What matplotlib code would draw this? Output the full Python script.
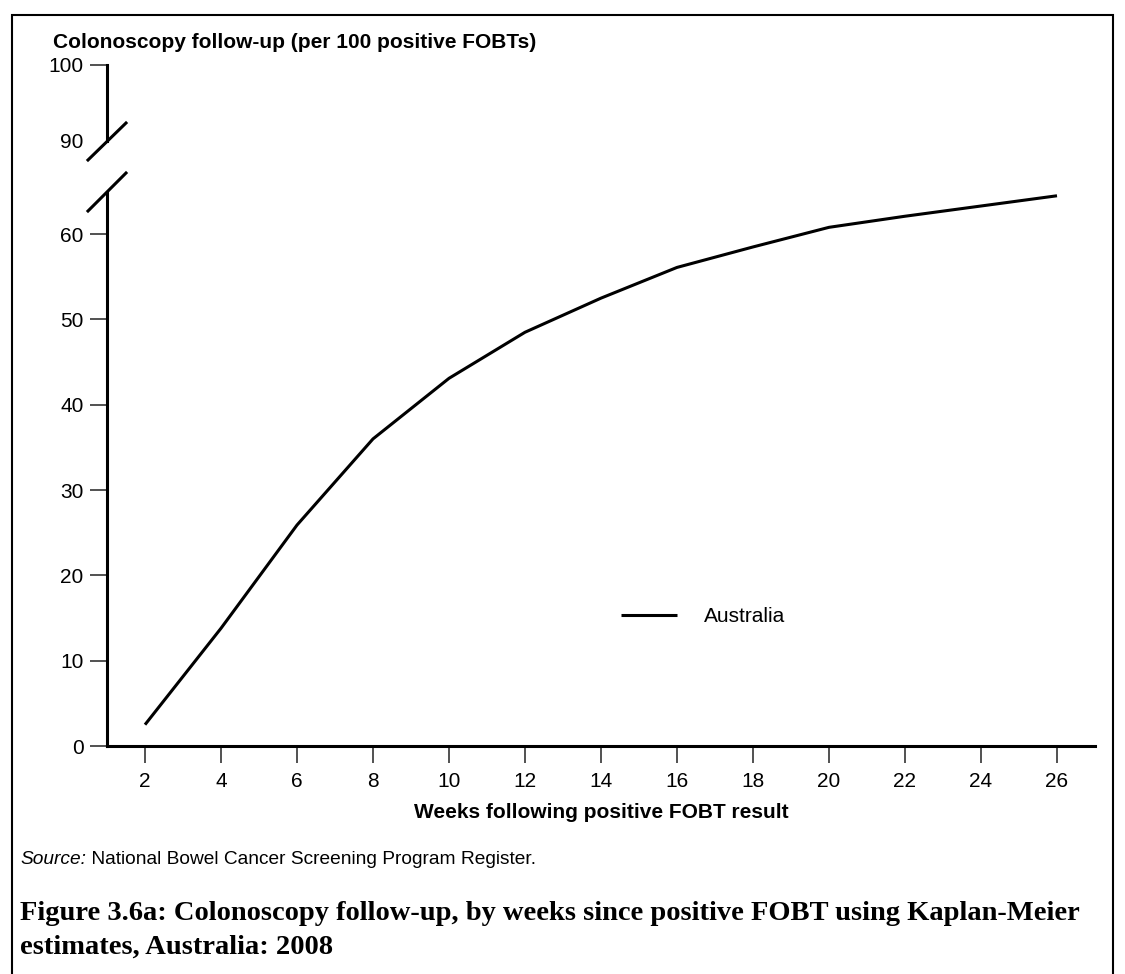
import matplotlib
matplotlib.use("Agg")
import matplotlib.pyplot as plt
from matplotlib.lines import Line2D
from matplotlib.patches import Rectangle

weeks = [2, 4, 6, 8, 10, 12, 14, 16, 18, 20, 22, 24, 26]
followup = [2.5, 13.8, 25.9, 36.0, 43.1, 48.5, 52.5, 56.1, 58.5, 60.8, 62.1, 63.3, 64.5]
series_name = "Australia"
x_ticks = [2, 4, 6, 8, 10, 12, 14, 16, 18, 20, 22, 24, 26]
y_ticks_low = [0, 10, 20, 30, 40, 50, 60]
y_ticks_high = [90, 100]

plt.rcParams['font.family'] = ['Liberation Sans', 'DejaVu Sans']

W, H = 1125, 974
fig = plt.figure(figsize=(W / 100, H / 100), dpi=100)

def fx(px):
    return px / W

def fy(py):
    return 1 - py / H

FS = 15

# lower axes
left, right = 107, 1095
bot, top = 746, 191.5
ax = fig.add_axes([fx(left), fy(bot), fx(right - left), (bot - top) / H])
ax.plot(weeks, followup, color='black', lw=2.2, solid_capstyle='butt', label=series_name)
ax.set_xlim(1, 27)
ax.set_ylim(0, 65)
ax.set_xticks(x_ticks)
ax.set_yticks(y_ticks_low)
for s in ['top', 'right']:
    ax.spines[s].set_visible(False)
ax.spines['left'].set_linewidth(2.2)
ax.spines['bottom'].set_linewidth(2.2)
ax.tick_params(axis='both', direction='out', length=12, width=1.2, color='#333333',
               labelsize=FS, labelcolor='black')
ax.tick_params(axis='y', pad=5)
ax.tick_params(axis='x', pad=7)
ax.set_xlabel("Weeks following positive FOBT result", fontsize=FS, fontweight='bold', labelpad=8)

leg = ax.legend(loc='center left', bbox_to_anchor=((621 - left) / (right - left), (bot - 617) / (bot - top)),
                frameon=False, fontsize=FS, handlelength=2.7, handletextpad=1.3,
                borderpad=0, borderaxespad=0)

# upper axes
ubot, utop = 141, 65
ax2 = fig.add_axes([fx(left), fy(ubot), fx(right - left), (ubot - utop) / H])
ax2.set_xlim(1, 27)
ax2.set_ylim(90, 100)
ax2.set_yticks(y_ticks_high)
ax2.set_xticks([])
for s in ['top', 'right', 'bottom']:
    ax2.spines[s].set_visible(False)
ax2.spines['left'].set_linewidth(2.2)
ax2.patch.set_alpha(0)
ax2.tick_params(axis='y', direction='out', length=12, width=1.2, color='#333333',
                labelsize=FS, pad=5)
ax2.yaxis.get_major_ticks()[0].tick1line.set_visible(False)

# break slashes
for (x0, y0, x1, y1) in [(88, 160, 126, 123), (88, 211, 126, 173)]:
    fig.add_artist(Line2D([fx(x0), fx(x1)], [fy(y0), fy(y1)], color='black', lw=2.2))

# y title
fig.text(fx(53), fy(42), "Colonoscopy follow-up (per 100 positive FOBTs)", fontsize=FS,
         fontweight='bold', ha='left', va='center')

# source
SFS = 13.8
t1 = fig.text(fx(20), fy(864), "Source:", fontsize=SFS, style='italic', ha='left', va='baseline')
ax.annotate(" National Bowel Cancer Screening Program Register.", xy=(1, 0), xycoords=t1,
            fontsize=SFS, ha='left', va='bottom', annotation_clip=False)

# caption
serif = ['Liberation Serif', 'DejaVu Serif']
fig.text(fx(20), fy(914), "Figure 3.6a: Colonoscopy follow-up, by weeks since positive FOBT using Kaplan-Meier",
         fontsize=20.5, fontweight='bold', family=serif, ha='left', va='center')
fig.text(fx(20), fy(947), "estimates, Australia: 2008",
         fontsize=20.5, fontweight='bold', family=serif, ha='left', va='center')

# border
fig.add_artist(Rectangle((fx(12), fy(990)), fx(1113 - 12), (990 - 15) / H, fill=False,
                         edgecolor='black', lw=1.5, transform=fig.transFigure))

fig.savefig("out.png", dpi=100)
